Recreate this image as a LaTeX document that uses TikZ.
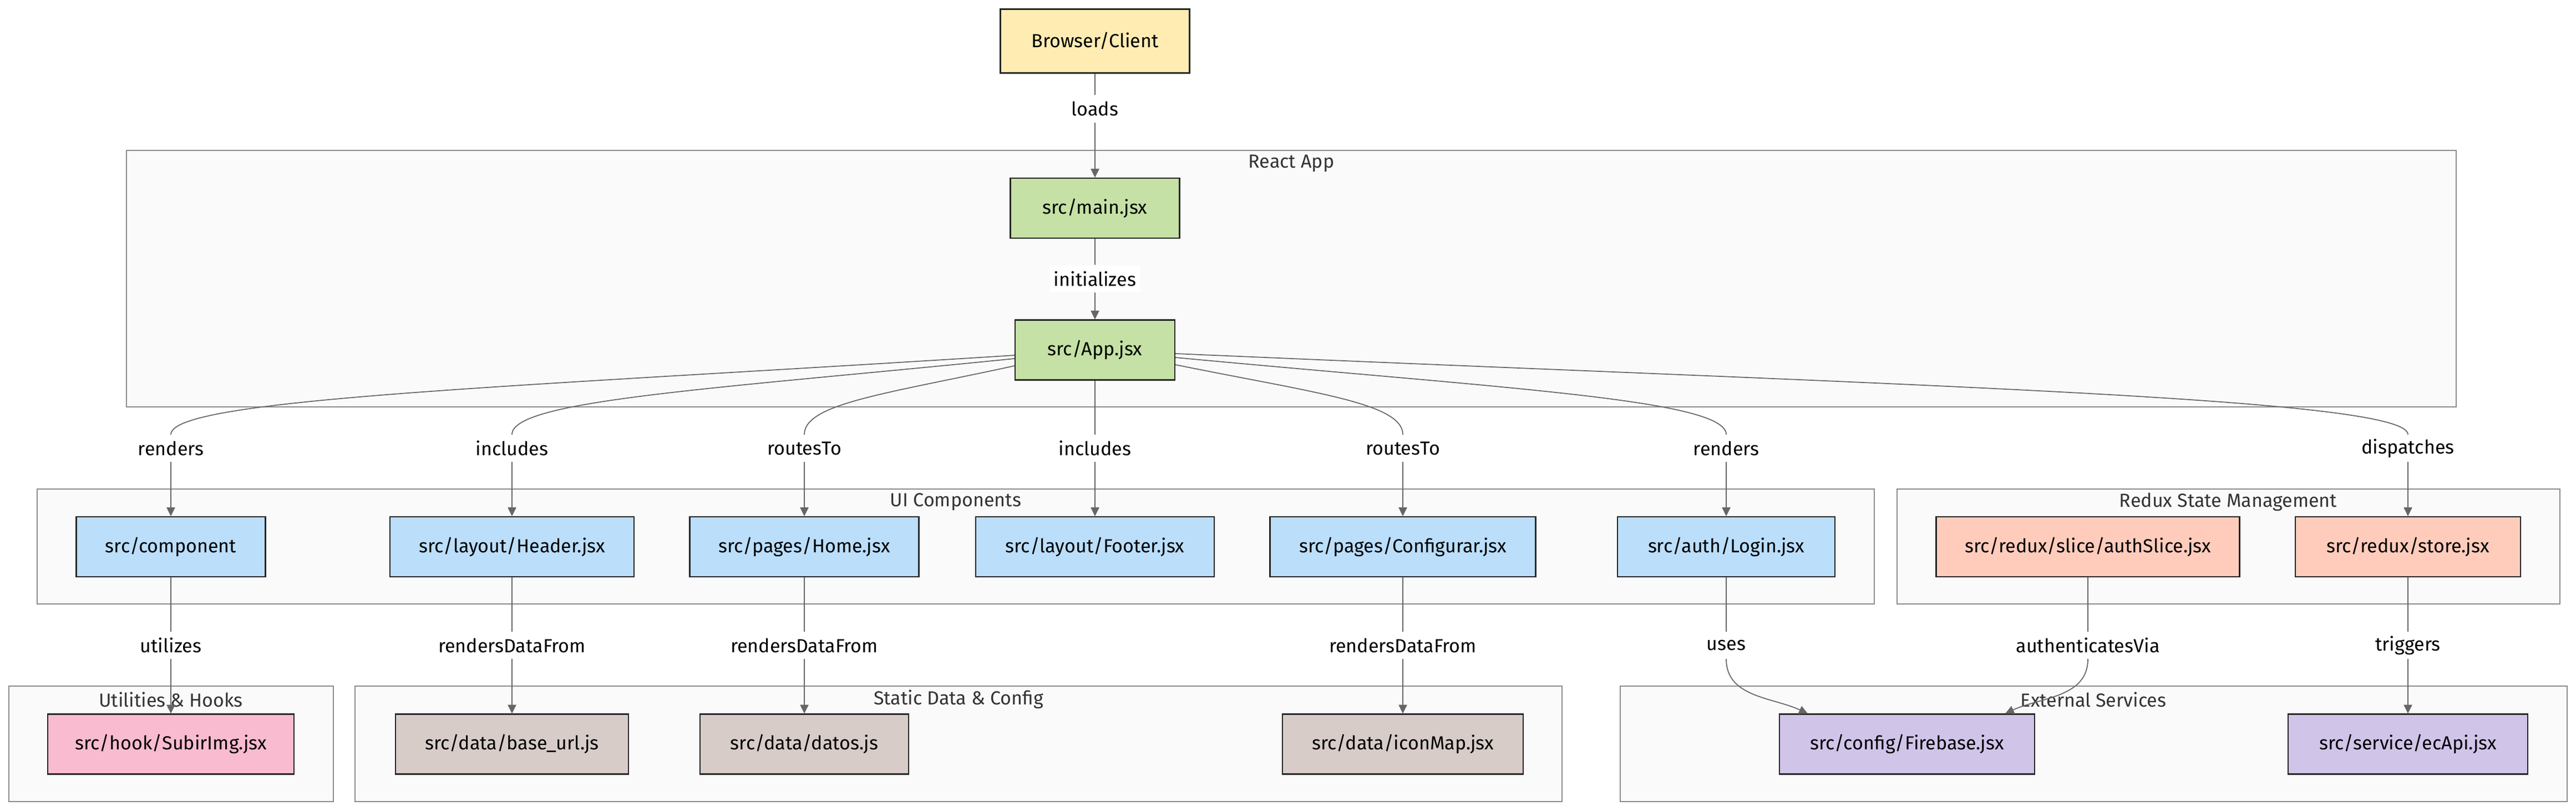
\documentclass[tikz,border=0pt]{standalone}
\usepackage{fontspec}
\setmainfont{Fira Sans}
\usetikzlibrary{arrows.meta}

\definecolor{amberbox}{HTML}{FFECB3}
\definecolor{greenbox}{HTML}{C5E1A5}
\definecolor{bluebox}{HTML}{BBDEFB}
\definecolor{pinkbox}{HTML}{F8BBD0}
\definecolor{brownbox}{HTML}{D7CCC8}
\definecolor{orangebox}{HTML}{FFCCBC}
\definecolor{purplebox}{HTML}{D1C4E9}
\newcommand{\diagfont}{\fontsize{9.7}{11}\selectfont}

\begin{document}
\begin{tikzpicture}[
    file/.style={draw=black!85, line width=0.6pt, minimum height=1.08cm, font=\diagfont},
    group/.style={draw=black!45, fill=black!2, line width=0.6pt},
    title/.style={text=black!80, font=\diagfont},
    lbl/.style={fill=white, inner xsep=2pt, inner ysep=0pt, minimum height=0.48cm, font=\diagfont},
    edge/.style={draw=black!60, line width=0.5pt},
    arr/.style={edge, -{Triangle[length=4.5pt,width=4.3pt]}}
  ]
    \fill[white] (0,0) rectangle (46.44,-14.60);

    \draw[group] (2.28,-2.71) rectangle (44.28,-7.33);
    \draw[group] (0.67,-8.81) rectangle (33.79,-10.88);
    \draw[group] (34.20,-8.81) rectangle (46.15,-10.88);
    \draw[group] (0.16,-12.36) rectangle (6.01,-14.44);
    \draw[group] (6.40,-12.36) rectangle (28.16,-14.44);
    \draw[group] (29.21,-12.36) rectangle (46.28,-14.44);
    \node[title] (reactT) at (23.28,-2.94) {React App};
    \node[title] (uiT) at (17.23,-9.04) {UI Components};
    \node[title] (reduxT) at (40.17,-9.04) {Redux State Management};
    \node[title] (utilT) at (3.08,-12.60) {Utilities \& Hooks};
    \node[title] (dataT) at (17.28,-12.60) {Static Data \& Config};
    \node[title] (extT) at (37.74,-12.60) {External Services};

    \node[file, fill=amberbox, minimum width=3.41cm, minimum height=1.15cm] (browser) at (19.74,-0.74) {Browser/Client};
    \node[file, fill=greenbox, minimum width=3.05cm] (main) at (19.74,-3.75) {src/main.jsx};
    \node[file, fill=greenbox, minimum width=2.88cm] (app) at (19.74,-6.305) {src/App.jsx};

    \node[file, fill=bluebox, minimum width=3.41cm] (component) at (3.08,-9.85) {src/component};
    \node[file, fill=bluebox, minimum width=4.40cm] (header) at (9.23,-9.85) {src/layout/Header.jsx};
    \node[file, fill=bluebox, minimum width=4.13cm] (home) at (14.50,-9.85) {src/pages/Home.jsx};
    \node[file, fill=bluebox, minimum width=4.30cm] (footer) at (19.74,-9.85) {src/layout/Footer.jsx};
    \node[file, fill=bluebox, minimum width=4.79cm] (configurar) at (25.29,-9.85) {src/pages/Configurar.jsx};
    \node[file, fill=bluebox, minimum width=3.92cm] (login) at (31.12,-9.85) {src/auth/Login.jsx};
    \node[file, fill=orangebox, minimum width=5.47cm] (authslice) at (37.64,-9.85) {src/redux/slice/authSlice.jsx};
    \node[file, fill=orangebox, minimum width=4.06cm] (store) at (43.41,-9.85) {src/redux/store.jsx};

    \node[file, fill=pinkbox, minimum width=4.44cm] (subirimg) at (3.08,-13.405) {src/hook/SubirImg.jsx};
    \node[file, fill=brownbox, minimum width=4.20cm] (baseurl) at (9.23,-13.405) {src/data/base\_url.js};
    \node[file, fill=brownbox, minimum width=3.76cm] (datos) at (14.50,-13.405) {src/data/datos.js};
    \node[file, fill=brownbox, minimum width=4.34cm] (iconmap) at (25.29,-13.405) {src/data/iconMap.jsx};
    \node[file, fill=purplebox, minimum width=4.60cm] (firebase) at (34.38,-13.405) {src/config/Firebase.jsx};
    \node[file, fill=purplebox, minimum width=4.32cm] (ecapi) at (43.41,-13.405) {src/service/ecApi.jsx};

    \node[lbl] (loads) at (19.74,-1.96) {loads};
    \node[lbl] (initializes) at (19.74,-5.02) {initializes};
    \node[lbl] (renders1) at (3.08,-8.075) {renders};
    \node[lbl] (includes1) at (9.23,-8.075) {includes};
    \node[lbl] (routes1) at (14.50,-8.075) {routesTo};
    \node[lbl] (includes2) at (19.74,-8.075) {includes};
    \node[lbl] (routes2) at (25.29,-8.075) {routesTo};
    \node[lbl] (renders2) at (31.12,-8.075) {renders};
    \node[lbl] (dispatches) at (43.41,-8.075) {dispatches};
    \node[lbl] (utilizes) at (3.08,-11.625) {utilizes};
    \node[lbl] (rdf1) at (9.23,-11.625) {rendersDataFrom};
    \node[lbl] (rdf2) at (14.50,-11.625) {rendersDataFrom};
    \node[lbl] (rdf3) at (25.29,-11.625) {rendersDataFrom};
    \node[lbl] (uses) at (31.12,-11.625) {uses};
    \node[lbl] (authvia) at (37.64,-11.625) {authenticatesVia};
    \node[lbl] (triggers) at (43.41,-11.625) {triggers};

    \draw[edge] (browser) -- (loads);
    \draw[arr] (loads) -- (main);
    \draw[edge] (main) -- (initializes);
    \draw[arr] (initializes) -- (app);

    \draw[edge] ([yshift=-0.095cm]app.west) .. controls +(-9.14,-0.58) and +(0,0.65) .. (renders1.north);
    \draw[edge] ([yshift=-0.155cm]app.west) .. controls +(-5.45,-0.55) and +(0,0.62) .. (includes1.north);
    \draw[edge] ([yshift=-0.285cm]app.west) .. controls +(-2.29,-0.50) and +(0,0.56) .. (routes1.north);
    \draw[edge] (app) -- (includes2);
    \draw[edge] ([yshift=-0.265cm]app.east) .. controls +(2.46,-0.50) and +(0,0.57) .. (routes2.north);
    \draw[edge] ([yshift=-0.135cm]app.east) .. controls +(5.96,-0.56) and +(0,0.63) .. (renders2.north);
    \draw[edge] ([yshift=-0.065cm]app.east) .. controls +(13.33,-0.58) and +(0,0.66) .. (dispatches.north);
    \draw[arr] (renders1) -- (component);
    \draw[arr] (includes1) -- (header);
    \draw[arr] (routes1) -- (home);
    \draw[arr] (includes2) -- (footer);
    \draw[arr] (routes2) -- (configurar);
    \draw[arr] (renders2) -- (login);
    \draw[arr] (dispatches) -- (store);

    \draw[edge] (component) -- (utilizes);
    \draw[edge] (header) -- (rdf1);
    \draw[edge] (home) -- (rdf2);
    \draw[edge] (configurar) -- (rdf3);
    \draw[edge] (login) -- (uses);
    \draw[edge] (authslice) -- (authvia);
    \draw[edge] (store) -- (triggers);
    \draw[arr] (utilizes) -- (subirimg);
    \draw[arr] (rdf1) -- (baseurl);
    \draw[arr] (rdf2) -- (datos);
    \draw[arr] (rdf3) -- (iconmap);
    \draw[arr] (uses.south) to[out=-90, in=155] ([xshift=-1.79cm]firebase.north);
    \draw[arr] (authvia.south) to[out=-90, in=25] ([xshift=1.77cm]firebase.north);
    \draw[arr] (triggers) -- (ecapi);
  \end{tikzpicture}
\end{document}
